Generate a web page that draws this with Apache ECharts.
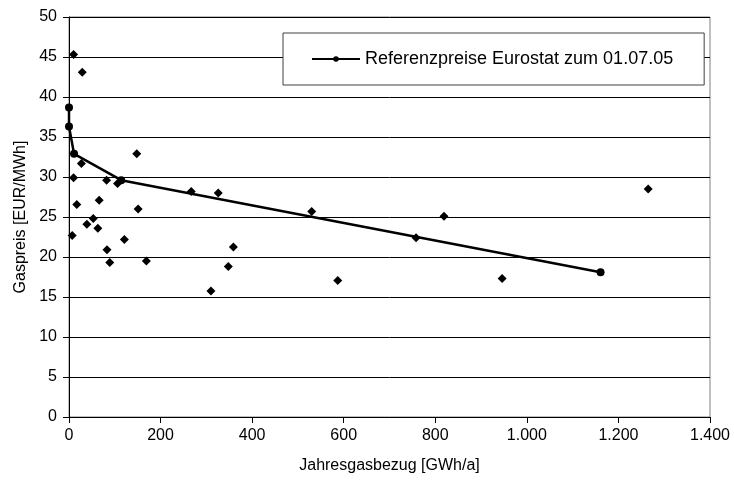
<!DOCTYPE html>
<html>
<head>
<meta charset="utf-8">
<script src="https://cdn.jsdelivr.net/npm/echarts@6/dist/echarts.min.js"></script>
<style>
  html, body { margin: 0; padding: 0; background: #fff; }
  #main { width: 734px; height: 481px; }
</style>
</head>
<body>
<div id="main"></div>
<script>
// Referenzpreise (Linie)
const refX = [0, 0, 11, 114, 1161];
const refY = [38.7, 36.3, 32.9, 29.6, 18.1];

// Einzelwerte (Rauten)
const gasX = [10, 29, 148, 27, 10, 82, 106, 267, 326, 17, 66, 151, 53, 39, 63, 7, 121, 83, 89, 169,
              359, 348, 310, 530, 587, 758, 819, 946, 1265];
const gasY = [45.3, 43.1, 32.9, 31.7, 29.9, 29.6, 29.2, 28.2, 28.0, 26.55, 27.1, 26.0, 24.8, 24.1, 23.6, 22.7, 22.2, 20.9, 19.3, 19.5,
              21.25, 18.8, 15.75, 25.7, 17.05, 22.4, 25.1, 17.3, 28.5];

const legendName = 'Referenzpreise Eurostat zum 01.07.05';

document.addEventListener('DOMContentLoaded', function () {
    const myChart = echarts.init(document.getElementById('main'));
    const font = 'Liberation Sans, Arial, sans-serif';

    // Tausenderpunkt wie im Original
    function fmt(v) {
        return String(v).replace(/\B(?=(\d{3})+(?!\d))/g, '.');
    }

    const option = {
        animation: false,
        textStyle: { fontFamily: font },
        grid: {
            left: 69, right: 24, top: 17, bottom: 64,
            show: true,
            borderColor: '#808080',
            borderWidth: 1
        },
        legend: {
            data: [legendName],
            left: 283,
            top: 33,
            padding: [17, 31, 17, 28],
            itemWidth: 48,
            itemHeight: 7,
            itemGap: 5,
            backgroundColor: '#fff',
            borderColor: '#404040',
            borderWidth: 1,
            borderRadius: 0,
            textStyle: { fontSize: 18, color: '#000', fontFamily: font }
        },
        xAxis: {
            type: 'value',
            min: 0,
            max: 1400,
            interval: 200,
            name: 'Jahresgasbezug [GWh/a]',
            nameLocation: 'middle',
            nameGap: 41,
            nameTextStyle: { fontSize: 16, color: '#000', fontFamily: font },
            axisLine: { show: true, lineStyle: { color: '#000', width: 1 } },
            axisTick: { show: true, length: 6, lineStyle: { color: '#000' } },
            axisLabel: { fontSize: 16, color: '#000', margin: 11, formatter: fmt },
            splitLine: { show: false }
        },
        yAxis: {
            type: 'value',
            min: 0,
            max: 50,
            interval: 5,
            name: 'Gaspreis [EUR/MWh]',
            nameLocation: 'middle',
            nameGap: 40,
            nameTextStyle: { fontSize: 16, color: '#000', fontFamily: font },
            axisLine: { show: true, lineStyle: { color: '#000', width: 1 } },
            axisTick: { show: true, length: 6, lineStyle: { color: '#000' } },
            axisLabel: { fontSize: 16, color: '#000', margin: 12 },
            splitLine: { show: true, lineStyle: { color: '#000', width: 1 } }
        },
        series: [
            {
                type: 'scatter',
                name: 'Einzelwerte',
                symbol: 'diamond',
                symbolSize: 9,
                itemStyle: { color: '#000', opacity: 1 },
                data: gasX.map((x, i) => [x, gasY[i]]),
                z: 2
            },
            {
                type: 'line',
                name: legendName,
                symbol: 'circle',
                symbolSize: 8,
                showAllSymbol: true,
                lineStyle: { color: '#000', width: 2.5 },
                itemStyle: { color: '#000' },
                data: refX.map((x, i) => [x, refY[i]]),
                z: 3
            }
        ]
    };

    myChart.setOption(option);
});
</script>
</body>
</html>
